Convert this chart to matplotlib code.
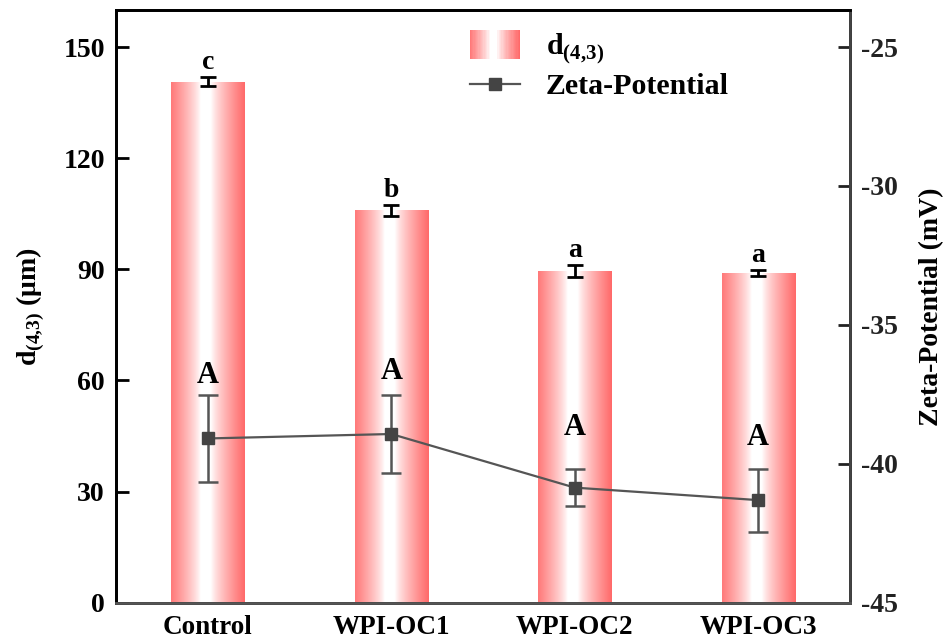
import numpy as np
import matplotlib
matplotlib.use('Agg')
import matplotlib.pyplot as plt
from matplotlib.legend_handler import HandlerBase
from matplotlib.patches import Rectangle
from matplotlib.lines import Line2D

plt.rcParams['font.family'] = ['Liberation Serif', 'DejaVu Serif']
plt.rcParams['font.weight'] = 'bold'
plt.rcParams['mathtext.fontset'] = 'custom'
plt.rcParams['mathtext.rm'] = 'Liberation Serif:bold'
plt.rcParams['mathtext.bf'] = 'Liberation Serif:bold'
plt.rcParams['axes.unicode_minus'] = False

# data
samples = ['Control', 'WPI-OC1', 'WPI-OC2', 'WPI-OC3']
d43 = [140.7, 105.9, 89.6, 89.0]
d43_err = [1.1, 1.4, 1.6, 0.7]
d43_letters = ['c', 'b', 'a', 'a']
zeta = [-39.09, -38.93, -40.86, -41.31]
zeta_err = [1.56, 1.39, 0.66, 1.13]
zeta_letters = ['A', 'A', 'A', 'A']
zeta_letter_y = [-36.81, -36.69, -38.68, -39.07]

RED = np.array([255, 105, 105]) / 255.0
WHITE = np.array([1.0, 1.0, 1.0])


def red_profile(t):
    # amount of red across the bar width: strong at the edges, white in the middle
    a = (np.abs(t - 0.47) - 0.07) / 0.46
    return np.clip(a, 0, 1) ** 0.8


def gradient_row(n=200):
    t = np.linspace(0, 1, n)
    a = red_profile(t)[:, None]
    return (WHITE * (1 - a) + RED * a)[None, :, :]


class GradientHandler(HandlerBase):
    def create_artists(self, legend, orig_handle, xdescent, ydescent,
                       width, height, fontsize, trans):
        arts = []
        n = 40
        cols = gradient_row(n)[0]
        w = width / n
        for i in range(n):
            r = Rectangle((-xdescent + i * w, -ydescent - 0.2 * height), w * 1.05, height * 1.4,
                          facecolor=cols[i], edgecolor='none', transform=trans)
            arts.append(r)
        return arts


fig = plt.figure(figsize=(9.48, 6.43), dpi=100)
ax = fig.add_axes([0.1224, 0.0628, 0.7742, 0.9216])
ax2 = ax.twinx()

x = np.arange(len(samples))
bars = ax.bar(x, d43, width=0.4, facecolor='none', edgecolor='none', zorder=2)
grad = gradient_row()
for b in bars:
    x0, y0 = b.get_x(), b.get_y()
    im = ax.imshow(grad, extent=(x0, x0 + b.get_width(), y0, y0 + b.get_height()),
                   aspect='auto', zorder=2, interpolation='bilinear')
    im.set_clip_path(b)

ax.errorbar(x, d43, yerr=d43_err, fmt='none', ecolor='black', elinewidth=2,
            capsize=6, capthick=2, zorder=3)
for xi, v, e, lab in zip(x, d43, d43_err, d43_letters):
    ax.annotate(lab, (xi, v + e), xytext=(0, 1.5), textcoords='offset points',
                ha='center', va='bottom', fontsize=20, fontweight='bold')

ax.set_xlim(-0.5, 3.5)
ax.set_ylim(0, 160)
ax.set_yticks([0, 30, 60, 90, 120, 150])
ax.set_xticks(x)
ax.set_xticklabels(samples)
ax.tick_params(axis='x', length=0, pad=9, labelsize=19.5)
ax.tick_params(axis='y', direction='in', length=9, width=2, pad=8, labelsize=20)
ax.set_ylabel(r'd$_{\mathregular{(4{,}3)}}$ (μm)', fontsize=20, fontweight='bold', labelpad=12)

ax2.errorbar(x, zeta, yerr=zeta_err, fmt='-s', color='#555555', mfc='#444444', mec='#444444',
             ms=9, lw=1.6, elinewidth=1.8, capsize=7, capthick=1.8, zorder=4)
for xi, yy, lab in zip(x, zeta_letter_y, zeta_letters):
    ax2.text(xi, yy, lab, ha='center', va='center', fontsize=22, fontweight='bold')
ax2.set_ylim(-45, -45 + 160 / 7.5)
ax2.set_yticks([-45, -40, -35, -30, -25])
ax2.tick_params(axis='y', direction='in', length=9, width=2, pad=8, labelsize=20, colors='#222222')
ax2.set_ylabel('Zeta-Potential (mV)', fontsize=20, fontweight='bold', labelpad=15)

for a in (ax, ax2):
    for s in a.spines.values():
        s.set_linewidth(2)
ax.spines['left'].set_color('black')
ax.spines['top'].set_color('black')
ax2.spines['right'].set_color('#444444')
ax2.spines['bottom'].set_color('#555555')

zeta_handle = Line2D([], [], color='#555555', marker='s', ms=9, lw=1.6,
                     mfc='#444444', mec='#444444')
bar_handle = Rectangle((0, 0), 1, 1)
ax2.legend([bar_handle, zeta_handle],
           [r'd$_{\mathregular{(4{,}3)}}$', 'Zeta-Potential'],
           handler_map={Rectangle: GradientHandler()},
           loc='upper left', bbox_to_anchor=(0.445, 1.008), frameon=False,
           prop={'size': 21.5, 'weight': 'bold'}, handlelength=1.7, handletextpad=0.85,
           labelspacing=0.22)

fig.savefig('out.png', dpi=100)
